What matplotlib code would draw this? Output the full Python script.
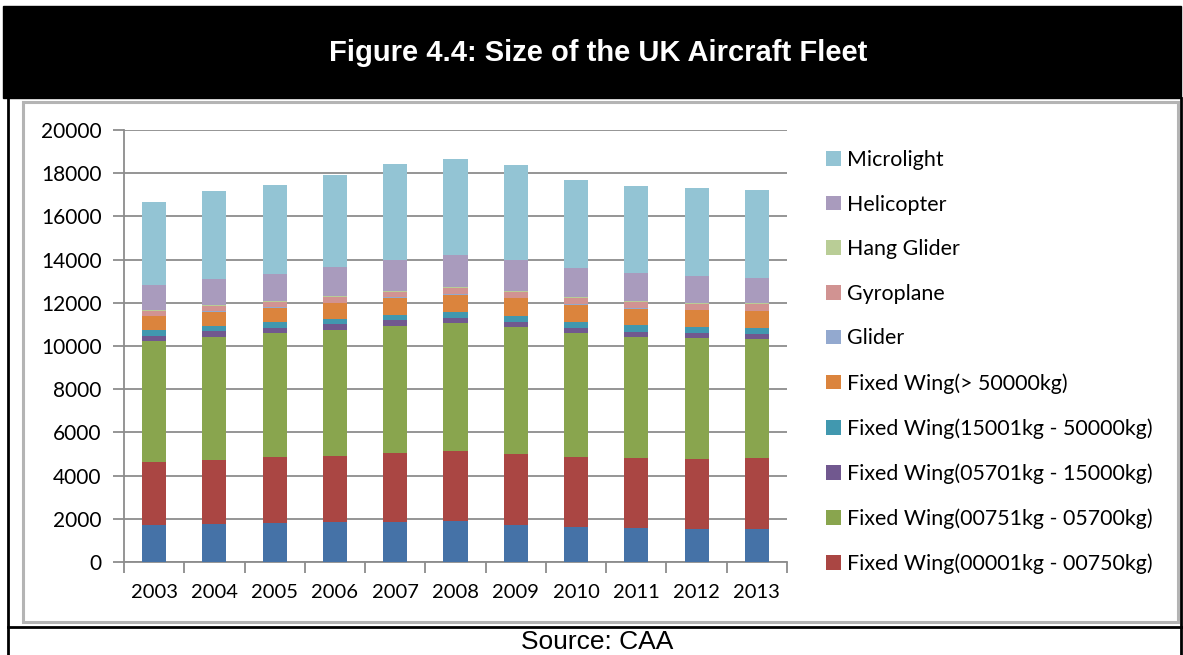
import numpy as np
import matplotlib.pyplot as plt
from matplotlib.patches import Rectangle, Patch
from matplotlib.lines import Line2D

# data (aircraft counts, stacked bottom -> top)
years = ['2003', '2004', '2005', '2006', '2007', '2008', '2009', '2010', '2011', '2012', '2013']
other = [1730, 1770, 1800, 1830, 1870, 1880, 1730, 1620, 1560, 1540, 1510]
fw_00001_00750 = [2900, 2960, 3040, 3070, 3160, 3250, 3250, 3220, 3240, 3250, 3290]
fw_00751_05700 = [5600, 5700, 5740, 5860, 5910, 5920, 5900, 5750, 5610, 5570, 5520]
fw_05701_15000 = [250, 250, 250, 250, 250, 260, 250, 250, 250, 230, 220]
fw_15001_50000 = [250, 250, 260, 250, 250, 280, 280, 290, 290, 290, 310]
fw_over_50000 = [650, 660, 680, 720, 790, 790, 790, 770, 770, 770, 760]
glider = [30, 30, 30, 30, 30, 30, 30, 30, 30, 30, 30]
gyroplane = [220, 230, 230, 250, 230, 280, 260, 280, 280, 280, 290]
hang_glider = [50, 50, 50, 50, 50, 50, 50, 50, 50, 50, 50]
helicopter = [1140, 1210, 1260, 1370, 1460, 1450, 1420, 1340, 1280, 1250, 1180]
microlight = [3840, 4070, 4130, 4240, 4430, 4470, 4430, 4100, 4060, 4040, 4060]

series = [
    (None, other, '#4572A7'),
    ('Fixed Wing(00001kg - 00750kg)', fw_00001_00750, '#AA4643'),
    ('Fixed Wing(00751kg - 05700kg)', fw_00751_05700, '#89A54E'),
    ('Fixed Wing(05701kg - 15000kg)', fw_05701_15000, '#71588F'),
    ('Fixed Wing(15001kg - 50000kg)', fw_15001_50000, '#4198AF'),
    ('Fixed Wing(> 50000kg)', fw_over_50000, '#DB843D'),
    ('Glider', glider, '#93A9CF'),
    ('Gyroplane', gyroplane, '#D19392'),
    ('Hang Glider', hang_glider, '#B9CD96'),
    ('Helicopter', helicopter, '#A99BBD'),
    ('Microlight', microlight, '#93C4D4'),
]

W, H = 1183, 655
fig = plt.figure(figsize=(W / 100, H / 100), dpi=100)

def fx(px):
    return px / W

def fy(py):
    return 1 - py / H

# black title band + frame lines
fig.patches.append(Rectangle((fx(3), fy(98)), fx(1181 - 3), (98 - 6) / H,
                             transform=fig.transFigure, color='black', zorder=0))
fig.patches.append(Rectangle((fx(23), fy(622)), fx(1178 - 23), (622 - 102) / H,
                             transform=fig.transFigure, facecolor='white',
                             edgecolor='#b4b4b4', linewidth=2.2, zorder=0))
for x in (8, 1181):
    fig.add_artist(Line2D([fx(x), fx(x)], [fy(98), 0], color='black', lw=2))
fig.add_artist(Line2D([fx(8), fx(1183)], [fy(627), fy(627)], color='black', lw=2))

fig.text(0.5055, fy(53), 'Figure 4.4: Size of the UK Aircraft Fleet', color='white',
         fontsize=21, fontweight='bold', family='Liberation Sans', ha='center', va='center')
fig.text(0.5045, fy(642), 'Source: CAA', color='black', fontsize=19,
         family='Liberation Sans', ha='center', va='center')

ax = fig.add_axes([fx(124), fy(562), fx(787 - 124), (562 - 130) / H])
ax.set_zorder(5)
ax.patch.set_alpha(0)
x = np.arange(len(years))
bottom = np.zeros(len(years))
handles = []
for label, vals, color in series:
    ax.bar(x, vals, width=0.4, bottom=bottom, color=color, zorder=3)
    bottom += np.array(vals)
    if label:
        handles.append(Patch(facecolor=color, label=label))

ax.set_xlim(-0.5, len(years) - 0.5)
ax.set_ylim(0, 20000)
ax.set_yticks(np.arange(0, 20001, 2000))
ax.yaxis.grid(True, color='#8c8c8c', linewidth=1.3, zorder=0)
ax.set_axisbelow(True)
ax.set_xticks(np.arange(-0.5, len(years), 1))
ax.set_xticklabels([])
ax.set_xticks(x, minor=True)
ax.set_xticklabels(years, minor=True)
ax.tick_params(axis='x', which='major', length=8, width=1.3, color='#8c8c8c')
ax.tick_params(axis='x', which='minor', length=0, pad=16)
ax.tick_params(axis='y', length=8, width=1.3, color='#8c8c8c', pad=8)
for lab in ax.get_xticklabels(minor=True):
    lab.set_family('Lato')
    lab.set_fontsize(14.5)
for lab in ax.get_yticklabels():
    lab.set_family('Lato')
    lab.set_fontsize(15)
for side in ('top', 'right'):
    ax.spines[side].set_visible(False)
for side in ('left', 'bottom'):
    ax.spines[side].set_color('#8c8c8c')
    ax.spines[side].set_linewidth(1.3)

leg = fig.legend(handles=handles[::-1], loc='upper left', bbox_to_anchor=(fx(826), fy(150)),
                 frameon=False, borderpad=0, borderaxespad=0, handlelength=0.68,
                 handleheight=0.68, handletextpad=0.3, labelspacing=1.15,
                 prop={'family': 'Lato', 'size': 15.4})
leg.set_zorder(6)

plt.savefig('out.png', dpi=100, facecolor='white')
